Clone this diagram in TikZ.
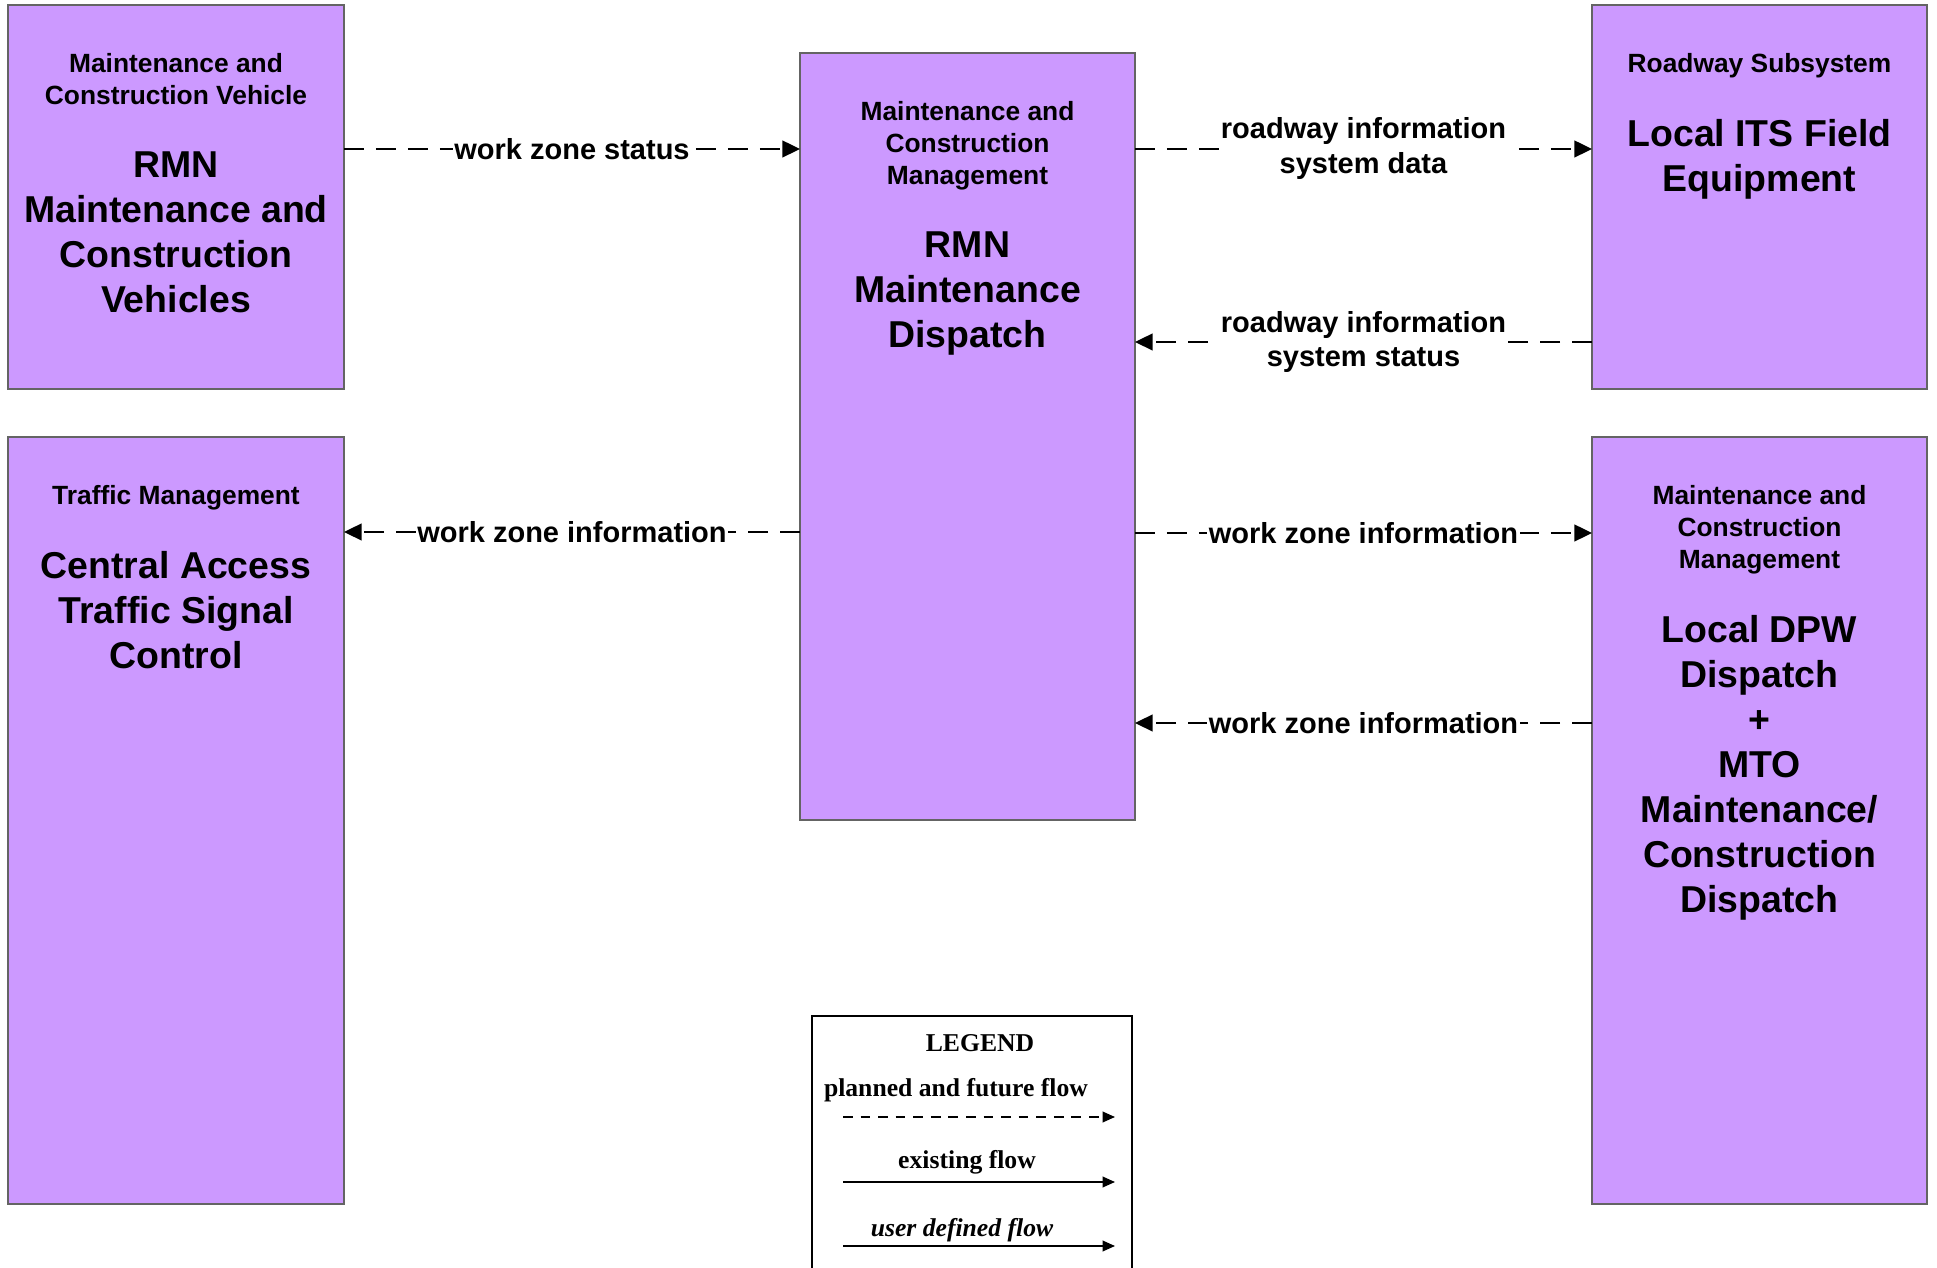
\documentclass[tikz,border=0pt]{standalone}
\usepackage{fontspec}
\setmainfont{Liberation Sans}
\newfontfamily\legendfont{Liberation Serif}
\usetikzlibrary{arrows.meta, positioning}
\definecolor{boxfill}{RGB}{204, 153, 255}
\definecolor{boxedge}{RGB}{100, 100, 100}

\tikzset{
  sysbox/.style={draw=boxedge, line width=1pt, fill=boxfill, inner sep=0pt, outer sep=0pt},
  headtext/.style={inner sep=0pt, align=center, font=\fontsize{15}{18.2}\selectfont\bfseries},
  titletext/.style={inner sep=0pt, align=center, font=\fontsize{21.3}{25.6}\selectfont\bfseries},
  flow/.style={line width=1.1pt, dash pattern=on 11.4pt off 6.8pt, -{Triangle[length=10pt, width=9.5pt]}},
  flowlabel/.style={midway, fill=white, inner sep=1pt, align=center, font=\fontsize{16.5}{19.9}\selectfont\bfseries},
  legendtext/.style={inner sep=0pt, font=\fontsize{14.6}{16}\selectfont\legendfont\bfseries},
  legendflow/.style={line width=1pt, -{Triangle[length=7pt, width=6pt]}},
}

\begin{document}
\begin{tikzpicture}
  \path[use as bounding box, clip] (0, 0) rectangle (38.74, 25.34);
  \fill[white] (0, 0) rectangle (38.74, 25.34);

  % Maintenance vehicles
  \node[sysbox, minimum width=6.72cm, minimum height=7.68cm] (vehicle) at (3.52, 21.40) {};
  \node[headtext, below=0.96cm of vehicle.north] (vehicleHead) {Maintenance and\\Construction Vehicle};
  \node[titletext, below=2.92cm of vehicle.north] (vehicleTitle) {RMN\\Maintenance and\\Construction\\Vehicles};

  % Traffic signal control
  \node[sysbox, minimum width=6.72cm, minimum height=15.34cm] (traffic) at (3.52, 8.93) {};
  \node[headtext, below=0.96cm of traffic.north] (trafficHead) {Traffic Management};
  \node[titletext, below=2.28cm of traffic.north] (trafficTitle) {Central Access\\Traffic Signal\\Control};

  % Maintenance dispatch
  \node[sysbox, minimum width=6.7cm, minimum height=15.34cm] (dispatch) at (19.35, 16.61) {};
  \node[headtext, below=0.96cm of dispatch.north] (dispatchHead) {Maintenance and\\Construction\\Management};
  \node[titletext, below=3.56cm of dispatch.north] (dispatchTitle) {RMN\\Maintenance\\Dispatch};

  % Field equipment
  \node[sysbox, minimum width=6.7cm, minimum height=7.68cm] (roadside) at (35.19, 21.40) {};
  \node[headtext, below=0.96cm of roadside.north] (roadsideHead) {Roadway Subsystem};
  \node[titletext, below=2.28cm of roadside.north] (roadsideTitle) {Local ITS Field\\Equipment};

  % DPW / MTO dispatch
  \node[sysbox, minimum width=6.7cm, minimum height=15.34cm] (dpw) at (35.19, 8.93) {};
  \node[headtext, below=0.96cm of dpw.north] (dpwHead) {Maintenance and\\Construction\\Management};
  \node[titletext, below=3.56cm of dpw.north] (dpwTitle) {Local DPW\\Dispatch\\+\\MTO\\Maintenance/\\Construction\\Dispatch};

  % Flows
  \draw[flow] ([yshift=0.96cm]vehicle.east) -- ([yshift=0.96cm]vehicle.east -| dispatch.west)
    node[flowlabel] {work zone status};
  \draw[flow] ([yshift=0.96cm]roadside.west -| dispatch.east) -- ([yshift=0.96cm]roadside.west)
    node[flowlabel] {roadway information\\system data};
  \draw[flow] ([yshift=-2.9cm]roadside.west) -- ([yshift=-2.9cm]roadside.west -| dispatch.east)
    node[flowlabel] {roadway information\\system status};
  \draw[flow] ([yshift=5.77cm]traffic.east -| dispatch.west) -- ([yshift=5.77cm]traffic.east)
    node[flowlabel] {work zone information};
  \draw[flow] ([yshift=5.75cm]dpw.west -| dispatch.east) -- ([yshift=5.75cm]dpw.west)
    node[flowlabel] {work zone information};
  \draw[flow] ([yshift=1.95cm]dpw.west) -- ([yshift=1.95cm]dpw.west -| dispatch.east)
    node[flowlabel] {work zone information};

  % Legend
  \node[draw, line width=1.4pt, fill=white, minimum width=6.4cm, minimum height=6.5cm, inner sep=0pt, anchor=north] (legend) at (19.44, 5.04) {};
  \node[legendtext] (legendHead) at (19.6, 4.48) {LEGEND};
  \node[legendtext] (plannedText) at (19.12, 3.54) {planned and future flow};
  \node[legendtext] (existingText) at (19.34, 2.10) {existing flow};
  \node[legendtext, font=\fontsize{14.6}{16}\selectfont\legendfont\bfseries\itshape] (userText) at (19.24, 0.74) {user defined flow};
  \coordinate (plannedA) at (16.86, 3.0);
  \coordinate (plannedB) at (22.3, 3.0);
  \coordinate (existingA) at (16.86, 1.7);
  \coordinate (existingB) at (22.3, 1.7);
  \coordinate (userA) at (16.86, 0.42);
  \coordinate (userB) at (22.3, 0.42);
  \draw[legendflow, dash pattern=on 5.5pt off 4.5pt] (plannedA) -- (plannedB);
  \draw[legendflow] (existingA) -- (existingB);
  \draw[legendflow] (userA) -- (userB);
\end{tikzpicture}
\end{document}
